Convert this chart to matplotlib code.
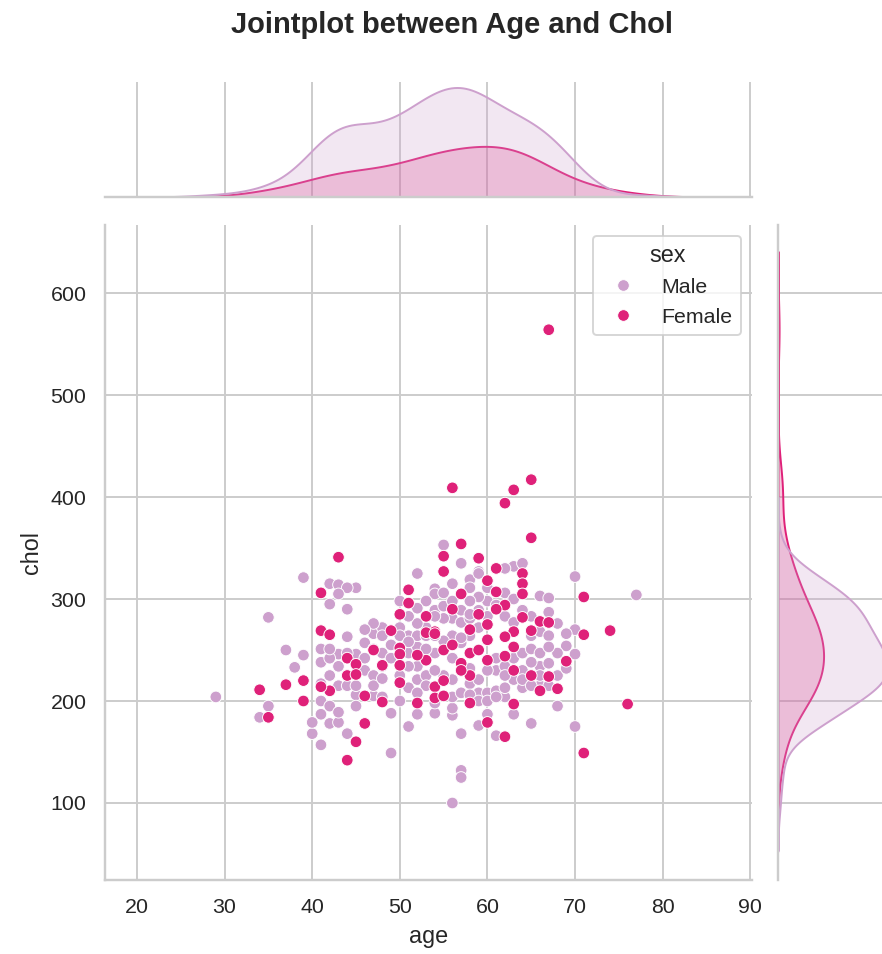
import pandas as pd
import matplotlib
matplotlib.use("Agg")
import matplotlib.pyplot as plt
import seaborn as sns

# --- data (age, chol) ---
female_age = [67, 56, 65, 63, 62, 65, 43, 57, 55, 59, 55, 61, 64, 64, 60, 64, 61, 41, 51, 51,
              57, 71, 62, 66, 67, 65, 74, 41, 42, 49, 63, 71, 54, 62, 44, 45, 50, 50, 55, 58,
              59, 60, 63, 62, 60, 57, 50, 42, 39, 37, 34, 35, 39, 46, 46, 45, 44, 50, 52, 54,
              54, 55, 58, 58, 60, 62, 63, 67, 68, 71, 76, 65, 53, 54, 57, 53, 56, 59, 61, 48,
              52, 44, 47, 66, 63, 55, 58, 60, 50, 45, 48, 56, 64, 69, 53, 41]
female_chol = [564, 409, 417, 407, 394, 360, 341, 354, 342, 340, 327, 330, 325, 315, 318, 305, 307, 306, 309, 296,
               305, 302, 294, 278, 277, 269, 269, 269, 265, 269, 268, 265, 268, 263, 242, 236, 252, 246, 250, 247,
               250, 260, 253, 244, 240, 237, 235, 210, 220, 216, 211, 184, 200, 205, 178, 160, 142, 218, 198, 214,
               203, 205, 225, 198, 179, 165, 197, 224, 212, 149, 197, 225, 267, 266, 230, 240, 255, 285, 290, 235,
               245, 225, 250, 210, 230, 220, 270, 275, 285, 226, 199, 290, 282, 239, 283, 214]

male_age = [77, 70, 39, 35, 29, 37, 38, 35, 34, 42, 43, 45, 44, 42, 44, 43, 52, 54, 54, 55,
            57, 58, 59, 63, 64, 62, 66, 67, 67, 65, 68, 70, 69, 70, 69, 68, 70, 65, 61, 60,
            59, 57, 57, 57, 56, 49, 51, 49, 54, 56, 56, 52, 41, 40, 42, 43, 44, 41, 41, 41,
            41, 42, 43, 44, 45, 46, 47, 48, 47, 47, 48, 46, 47, 44, 43, 45, 47, 50, 51, 52,
            53, 52, 51, 52, 51, 53, 53, 54, 55, 56, 56, 57, 58, 59, 60, 59, 58, 57, 56, 55,
            54, 53, 56, 57, 56, 55, 54, 58, 59, 59, 60, 61, 61, 62, 61, 63, 64, 65, 66, 66,
            67, 64, 64, 66, 63, 62, 65, 66, 67, 62, 63, 64, 62, 60, 59, 58, 57, 56, 55, 54,
            52, 51, 50, 50, 49, 49, 48, 50, 51, 53, 52, 54, 56, 57, 58, 59, 60, 61, 62, 63,
            64, 65, 67, 68, 67, 69, 52, 53, 48, 46, 44, 42, 42, 43, 44, 42, 43, 45, 45, 47,
            48, 41, 40, 56, 55, 53, 58, 60, 61, 59, 50, 52, 54, 58, 60, 62, 66, 68, 69, 58,
            46, 39, 51, 63, 65, 48, 57]
male_chol = [304, 322, 321, 282, 204, 250, 233, 195, 184, 315, 314, 311, 311, 295, 290, 305, 325, 310, 305, 353,
             335, 319, 327, 332, 335, 330, 303, 301, 287, 283, 276, 270, 254, 246, 237, 195, 175, 178, 166, 187,
             176, 168, 132, 125, 100, 149, 175, 188, 188, 186, 193, 187, 157, 168, 178, 179, 168, 200, 217, 238,
             251, 225, 246, 263, 246, 257, 266, 272, 276, 251, 247, 230, 225, 225, 215, 206, 205, 200, 213, 221,
             225, 234, 247, 253, 264, 272, 283, 289, 293, 289, 281, 277, 281, 289, 283, 272, 264, 257, 264, 259,
             247, 251, 242, 230, 221, 225, 230, 217, 221, 208, 208, 210, 230, 234, 242, 242, 247, 251, 247, 234,
             237, 230, 213, 215, 187, 204, 264, 268, 264, 283, 277, 289, 306, 298, 302, 298, 289, 298, 281, 283,
             276, 283, 272, 264, 255, 242, 234, 225, 234, 215, 208, 198, 204, 208, 206, 200, 200, 204, 213, 221,
             221, 215, 215, 247, 253, 266, 264, 264, 264, 242, 247, 242, 251, 234, 215, 195, 189, 195, 215, 215,
             204, 187, 179, 315, 306, 298, 311, 311, 294, 325, 298, 291, 264, 232, 230, 225, 225, 225, 232, 285,
             270, 245, 258, 300, 238, 222, 262]

sex_order = ["Male", "Female"]

df = pd.DataFrame({
    "age": male_age + female_age,
    "chol": male_chol + female_chol,
    "sex": ["Male"] * len(male_age) + ["Female"] * len(female_age),
})

sns.set_theme(style="whitegrid")
plt.rcParams["font.family"] = ["Liberation Sans", "DejaVu Sans"]

g = sns.jointplot(data=df, x="age", y="chol", hue="sex", hue_order=sex_order,
                  palette="PuRd", height=5.6)
fig = g.figure
fig.set_size_inches(882 / 140, 954 / 140)

# place the three panels like the reference
g.ax_joint.set_position([105 / 882, 74 / 954, 647 / 882, 655 / 954])
g.ax_marg_x.set_position([105 / 882, 757 / 954, 647 / 882, 115 / 954])
g.ax_marg_y.set_position([778 / 882, 74 / 954, 115 / 882, 655 / 954])

g.ax_joint.set_xlim(16.35, 90.2)
g.ax_joint.set_ylim(24.5, 666.7)
g.ax_joint.set_xticks(range(20, 91, 10))
g.ax_joint.set_yticks(range(100, 601, 100))

sns.move_legend(g.ax_joint, "upper right")

fig.suptitle("Jointplot between Age and Chol", fontweight="bold", fontsize=15,
             x=0.5125, y=1 - 25 / 954, va="center")

fig.savefig("out.png", dpi=140)
